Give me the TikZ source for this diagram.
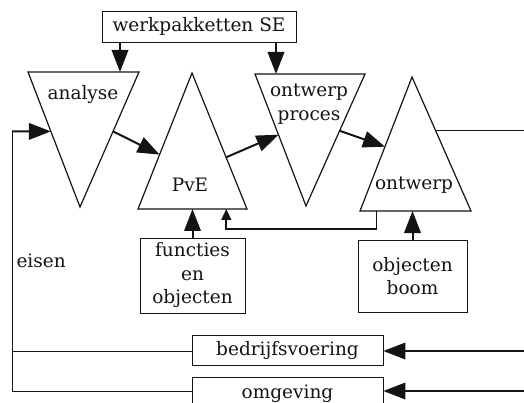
\documentclass[tikz,border=0pt]{standalone}
\usepackage{fontspec}
\setmainfont{DejaVu Serif}
\usetikzlibrary{calc,arrows.meta}
\definecolor{ink}{HTML}{141414}
\newcommand\dfont{\fontsize{18.5}{23.5}\selectfont}
\tikzset{
  tri/.style={draw=ink, line width=1.2pt, line join=miter},
  box/.style={draw=ink, line width=0.8pt, inner sep=0pt, align=center, font=\dfont, text=ink},
  flow/.style={draw=ink, line width=2pt, -{Triangle[length=22pt,width=16.5pt]}},
  back/.style={draw=ink, line width=1.6pt, -{Triangle[length=11pt,width=10pt]}},
  loop/.style={draw=ink, line width=0.8pt},
  lab/.style={text=ink, font=\dfont, align=center},
}
\begin{document}
\begin{tikzpicture}[x=1pt,y=-1pt]
  \useasboundingbox (0,0) rectangle (524,403);
  % triangles
  \coordinate (aL) at (28,72);   \coordinate (aR) at (139,72);  \coordinate (aB) at (80,207);
  \coordinate (pT) at (192,73);  \coordinate (pL) at (138,209); \coordinate (pR) at (247,209);
  \coordinate (oL) at (255,74);  \coordinate (oR) at (365,74);  \coordinate (oB) at (306,206);
  \coordinate (tT) at (412,77);  \coordinate (tL) at (360,211); \coordinate (tR) at (471,211);

  \draw[tri] (aL) -- (aR) -- (aB) -- cycle;
  \draw[tri] (pT) -- (pR) -- (pL) -- cycle;
  \draw[tri] (oL) -- (oR) -- (oB) -- cycle;
  \draw[tri] (tT) -- (tR) -- (tL) -- cycle;

  \node[lab] (ana) at (83,95) {analyse};
  \node[lab] (pve) at (190,185) {PvE};
  \node[lab] (owp) at (309,104) {ontwerp\\proces};
  \node[lab] (ont) at (414,185) {ontwerp};
  \node[lab, anchor=west] (eis) at (13,261) {eisen};

  % boxes
  \node[box, minimum width=194pt, minimum height=31pt] (werk) at (199,26.5) {werkpakketten SE};
  \node[box, minimum width=105pt, minimum height=75pt] (fun) at (192.5,275.5) {functies\\en\\objecten};
  \node[box, minimum width=109pt, minimum height=72pt] (obj) at (412.5,276) {objecten\\boom};
  \node[box, minimum width=191pt, minimum height=30pt] (bedr) at (287.5,350.5) {bedrijfsvoering};
  \node[box, minimum width=191pt, minimum height=34pt] (omg) at (287.5,394) {omgeving};

  % connectors
  \coordinate (w1) at (120,72);
  \coordinate (w2) at (276,74);
  \draw[flow] (w1 |- werk.south) -- (w1);
  \draw[flow] (w2 |- werk.south) -- (w2);

  \draw[flow] ($(aR)!0.44!(aB)$) -- ($(pT)!0.6!(pL)$);
  \draw[flow] ($(pT)!0.62!(pR)$) -- ($(oL)!0.46!(oB)$);
  \draw[flow] ($(oR)!0.43!(oB)$) -- ($(tT)!0.52!(tL)$);
  \draw[flow] (fun.north) -- (fun.north |- pL);
  \draw[flow] (obj.north) -- (obj.north |- tL);

  \coordinate (fbA) at ($(tL)!0.15!(tR)$);
  \coordinate (fbB) at ($(pL)!0.81!(pR)$);
  \draw[back] (fbA) -- ++(0,18) -| (fbB);

  % right side
  \coordinate (tr) at ($(tT)!0.4!(tR)$);
  \coordinate (eA) at (524,131);
  \draw[loop] (tr) -- (tr -| eA);
  \coordinate (eB) at (524,351);
  \coordinate (eC) at (524,391);
  \draw[flow] (eB) -- (eB -| bedr.east);
  \draw[flow] (eC) -- (eC -| omg.east);

  % left loop
  \coordinate (lt) at (12,131.4);
  \coordinate (lb) at (12,391);
  \draw[loop] (lb -| omg.west) -- (lb) -- (lt);
  \draw[loop] (lt |- eB) -- (eB -| bedr.west);
  \draw[flow] (lt) -- ($(aL)!0.44!(aB)$);
\end{tikzpicture}
\end{document}
